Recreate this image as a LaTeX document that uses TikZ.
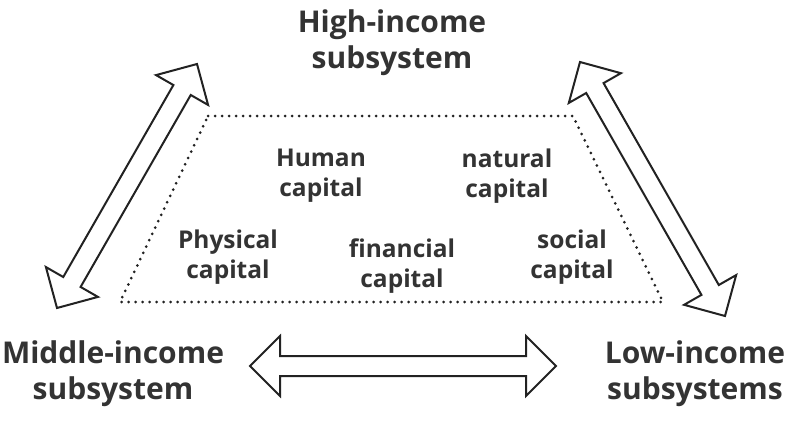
\documentclass[tikz,border=0pt]{standalone}
\usepackage{fontspec}
\setmainfont{Open Sans}
\usetikzlibrary{calc}
\definecolor{txt}{HTML}{333333}
\definecolor{ln}{HTML}{222222}
\newcommand\dblarrow[2]{%
\draw[bigarrow] (#1)
 -- ($($(#1)!30pt!(#2)$)!30pt!90:(#2)$)
 -- ($($(#1)!30pt!(#2)$)!10pt!90:(#2)$)
 -- ($($(#2)!30pt!(#1)$)!10pt!-90:(#1)$)
 -- ($($(#2)!30pt!(#1)$)!30pt!-90:(#1)$)
 -- (#2)
 -- ($($(#2)!30pt!(#1)$)!30pt!90:(#1)$)
 -- ($($(#2)!30pt!(#1)$)!10pt!90:(#1)$)
 -- ($($(#1)!30pt!(#2)$)!10pt!-90:(#2)$)
 -- ($($(#1)!30pt!(#2)$)!30pt!-90:(#2)$)
 -- cycle;}
\begin{document}
\begin{tikzpicture}[x=1pt,y=-1pt,
  bigarrow/.style={draw=ln,line width=2pt,line join=miter,fill=white},
  dotline/.style={draw=ln,line width=3pt,dash pattern=on 0pt off 7pt,line cap=round},
  titlelbl/.style={text=txt,font=\fontsize{30}{36}\selectfont\bfseries,align=center,inner sep=0pt},
  caplbl/.style={text=txt,font=\fontsize{24.5}{30}\selectfont\bfseries,align=center,inner sep=0pt}]
\useasboundingbox (0,0) rectangle (800,431);
% dotted trapezoid
\coordinate (t1) at (208,116);
\coordinate (t2) at (573,116);
\coordinate (t3) at (663,302);
\coordinate (t4) at (120,302);
\draw[dotline] (t1) -- (t2) -- (t3) -- (t4) -- cycle;
% titles
\node[titlelbl] (high) at (392,43) {High-income\\subsystem};
\node[titlelbl] (mid) at (113,374) {Middle-income\\subsystem};
\node[titlelbl] (low) at (695,374) {Low-income\\subsystems};
% capitals
\node[caplbl] (human) at (321,176) {Human\\capital};
\node[caplbl] (natural) at (507,176) {natural\\capital};
\node[caplbl] (physical) at (228,257) {Physical\\capital};
\node[caplbl] (financial) at (402,266) {financial\\capital};
\node[caplbl] (social) at (572,257) {social\\capital};
% arrows
\coordinate (la1) at (57,308);
\coordinate (la2) at (197,64);
\coordinate (ra1) at (580,62);
\coordinate (ra2) at (725,316);
\coordinate (ha1) at (250,366);
\coordinate (ha2) at (556,366);
\dblarrow{la1}{la2}
\dblarrow{ra1}{ra2}
\dblarrow{ha1}{ha2}
\end{tikzpicture}
\end{document}
